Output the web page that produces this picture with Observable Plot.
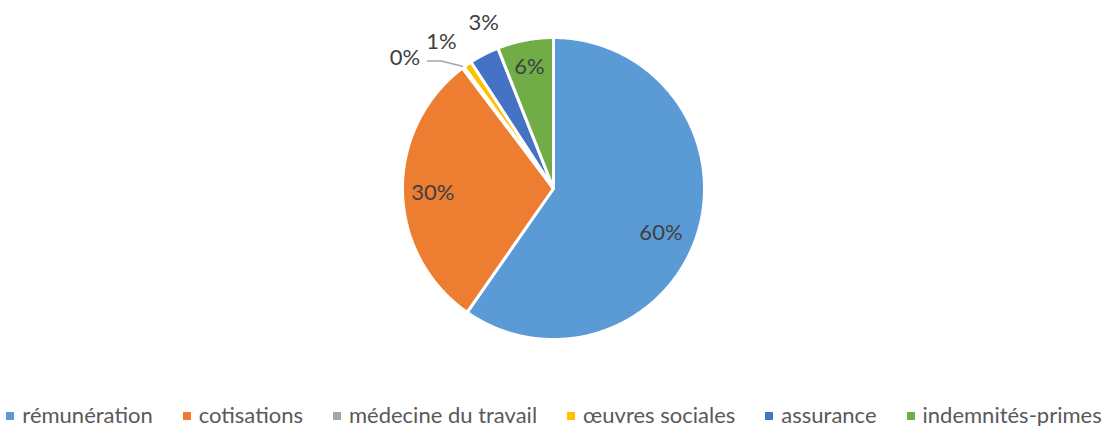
<!DOCTYPE html>
<html><head><meta charset="utf-8">
<script src="https://cdn.jsdelivr.net/npm/d3@7"></script>
<script src="https://cdn.jsdelivr.net/npm/@observablehq/plot@0.6"></script>
<style>
html,body{margin:0;padding:0;background:#fff;}
body{width:1108px;height:426px;overflow:hidden;font-family:Lato,"Open Sans",sans-serif;}
#chart svg{display:block;}
#legend{display:flex;justify-content:center;align-items:center;height:28px;padding-top:2px;box-sizing:content-box;font-size:22px;color:#595959;white-space:nowrap;}
#legend .item{display:flex;align-items:center;margin:0 15px;}
#legend .sw{width:8px;height:8px;margin-right:8px;margin-top:3px;}
</style></head><body>
<div id="chart"></div>
<div id="legend"></div>
<script>
const categories = ["rémunération","cotisations","médecine du travail","œuvres sociales","assurance","indemnités-primes"];
const values = [59.7, 30.0, 0.2, 0.9, 3.2, 6.0];
const labels = ["60%","30%","0%","1%","3%","6%"];
const colors = ["#5B9BD5","#ED7D31","#A5A5A5","#FFC000","#4472C4","#70AD47"];

const rows = categories.map((c,i)=>({cat:c, value:values[i], label:labels[i]}));
const arcs = d3.pie().sort(null).value(d=>d.value)(rows);

// slice outlines (polygons) in unit-circle coordinates
const pts = [];
arcs.forEach(a=>{
  const c = a.data.cat;
  pts.push({cat:c, x:0, y:0});
  const n = Math.max(2, Math.ceil((a.endAngle-a.startAngle)/(Math.PI/360)));
  for(let k=0;k<=n;k++){
    const t = a.startAngle + (a.endAngle-a.startAngle)*k/n;
    pts.push({cat:c, x:Math.sin(t), y:Math.cos(t)});
  }
});

// label placement (angle nudge in degrees, radius)
const place = {
  "rémunération":[5,0.77], "cotisations":[-0.8,0.80], "indemnités-primes":[-0.4,0.82],
  "assurance":[4.5,1.19], "œuvres sociales":[-2.7,1.22], "médecine du travail":[-12,1.31]
};
const textRows = arcs.map(a=>{
  const mid = (a.startAngle+a.endAngle)/2 + place[a.data.cat][0]*Math.PI/180;
  const r = place[a.data.cat][1];
  return {label:a.data.label, x:Math.sin(mid)*r, y:Math.cos(mid)*r};
});

// leader line for the tiny slice
const med = arcs[2];
const mm = (med.startAngle+med.endAngle)/2;
const p0 = {x:Math.sin(mm)*1.01, y:Math.cos(mm)*1.01};
const leader = [
  {x:p0.x, y:p0.y},
  {x:p0.x-0.14, y:p0.y+0.035},
  {x:p0.x-0.23, y:p0.y+0.035}
];

const W = 1108, H = 398;
const plot = Plot.plot({
  width:W, height:H,
  marginLeft:402, marginRight:404, marginTop:37, marginBottom:59,
  x:{domain:[-1,1], axis:null},
  y:{domain:[-1,1], axis:null},
  color:{domain:categories, range:colors},
  style:{fontFamily:"Lato, 'Open Sans', sans-serif", background:"#fff"},
  marks:[
    Plot.line(pts, {x:"x", y:"y", z:"cat", fill:"cat", stroke:"white", strokeWidth:3, strokeLinejoin:"miter", curve:"linear-closed"}),
    Plot.line(leader, {x:"x", y:"y", stroke:"#A6A6A6", strokeWidth:1.5}),
    Plot.text(textRows, {x:"x", y:"y", text:"label", fill:"#404040", fontSize:22})
  ]
});
document.getElementById("chart").appendChild(plot);

const lg = document.getElementById("legend");
categories.forEach((c,i)=>{
  const it = document.createElement("div"); it.className="item";
  const sw = document.createElement("span"); sw.className="sw"; sw.style.background=colors[i];
  const tx = document.createElement("span"); tx.textContent=c;
  it.appendChild(sw); it.appendChild(tx); lg.appendChild(it);
});
</script>
</body></html>
